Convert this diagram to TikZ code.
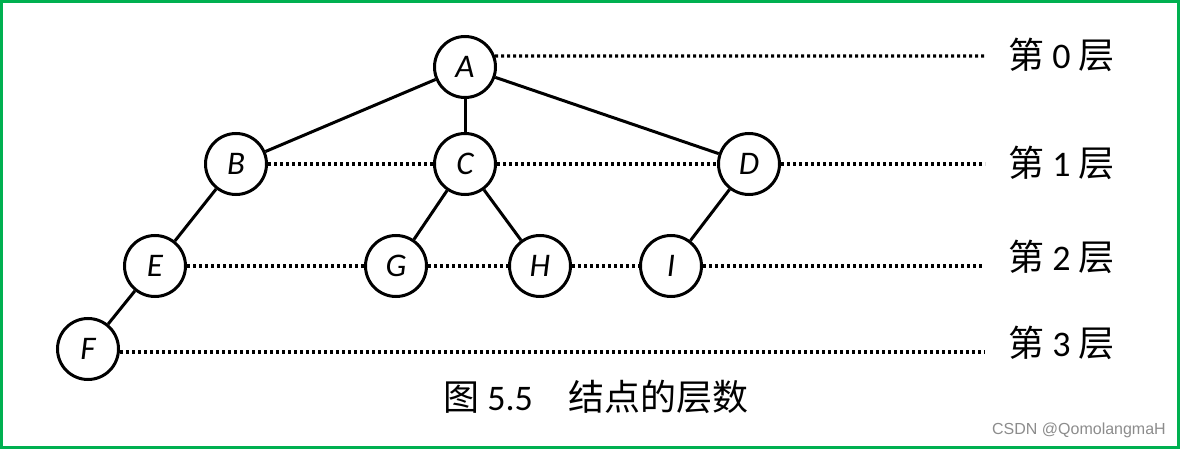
\documentclass[tikz,border=0pt]{standalone}
\usepackage{fontspec}
\setmainfont{Carlito}
\newfontfamily\cjk{Noto Sans CJK SC}
\newfontfamily\wmfont{Liberation Sans}
\definecolor{framegreen}{RGB}{0,176,80}
\definecolor{wmgray}{RGB}{140,140,140}
\tikzset{
  vert/.style={circle, draw, line width=3pt, minimum size=61pt, inner sep=0pt,
    font=\fontsize{33}{36}\selectfont\itshape},
  edge/.style={line width=3pt},
  lvl/.style={line width=3.2pt, dash pattern=on 3pt off 3pt},
  lvltext/.style={anchor=west, inner sep=0pt, font=\fontsize{36}{40}\selectfont},
}
\begin{document}
\begin{tikzpicture}[x=1pt, y=-1pt]
    \useasboundingbox (0,0) rectangle (1180,449);
    \draw[framegreen, line width=3pt] (1.5,1.5) rectangle (1178.5,447.5);
    % tree
    \node[vert] (A) at (465,67) {A};
    \node[vert] (B) at (236,164) {B};
    \node[vert] (C) at (465,164) {C};
    \node[vert] (D) at (749,164) {D};
    \node[vert] (E) at (155,266) {E};
    \node[vert] (G) at (396,266) {G};
    \node[vert] (H) at (540,266) {H};
    \node[vert] (I) at (671,266) {I};
    \node[vert] (F) at (88,349) {F};
    \draw[edge] (A) -- (B);
    \draw[edge] (A) -- (C);
    \draw[edge] (A) -- (D);
    \draw[edge] (B) -- (E);
    \draw[edge] (C) -- (G);
    \draw[edge] (C) -- (H);
    \draw[edge] (D) -- (I);
    \draw[edge] (E) -- (F);
    % levels
    \coordinate (end0) at (985,56);
    \coordinate (end1) at (985,164);
    \coordinate (end2) at (983,266);
    \coordinate (end3) at (985,352);
    \draw[lvl] (A.20) -- (end0);
    \draw[lvl] (B) -- (C);
    \draw[lvl] (C) -- (D);
    \draw[lvl] (D) -- (end1);
    \draw[lvl] (E) -- (G);
    \draw[lvl] (G) -- (H);
    \draw[lvl] (H) -- (I);
    \draw[lvl] (I) -- (end2);
    \draw[lvl] (F.east |- end3) -- (end3);
    \node[lvltext] (lvl0) at (1008,55) {{\cjk 第} 0 {\cjk 层}};
    \node[lvltext] (lvl1) at (1008,163) {{\cjk 第} 1 {\cjk 层}};
    \node[lvltext] (lvl2) at (1008,257) {{\cjk 第} 2 {\cjk 层}};
    \node[lvltext] (lvl3) at (1008,343) {{\cjk 第} 3 {\cjk 层}};
    % caption
    \node[inner sep=0pt, font=\fontsize{36}{40}\selectfont] (cap) at (596,397)
      {{\cjk 图} 5.5{\cjk 　结点的层数}};
    \node[anchor=east, inner sep=0pt, text=wmgray, font=\wmfont\fontsize{16}{18}\selectfont]
      (mark) at (1166,430) {CSDN @QomolangmaH};
\end{tikzpicture}
\end{document}
